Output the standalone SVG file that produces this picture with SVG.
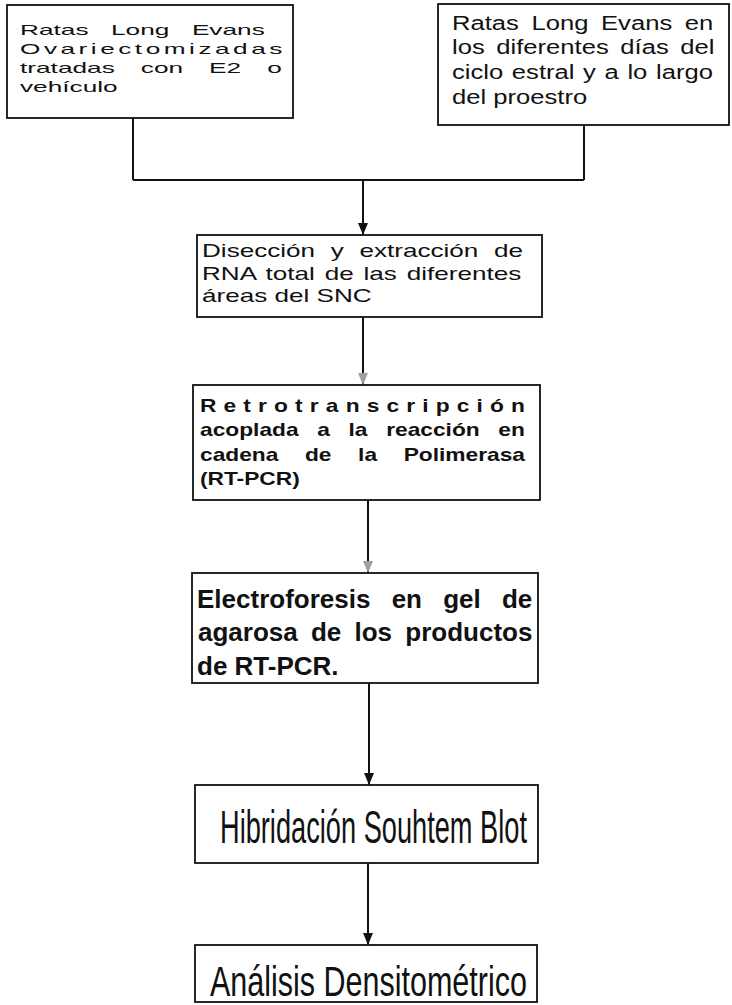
<svg xmlns="http://www.w3.org/2000/svg" width="732" height="1005" viewBox="0 0 732 1005">
<style>
.box{fill:#fff;stroke:#111;stroke-width:1.8}
.t{font-family:"Liberation Sans",Arial,sans-serif;fill:#111}
.b{font-weight:bold}
.ln{fill:none;stroke:#111;stroke-width:2}
</style>
<defs>
<marker id="ah" viewBox="0 0 12 10" refX="12" refY="5" markerWidth="12" markerHeight="10" markerUnits="userSpaceOnUse" orient="auto">
<path d="M0,0 L12,5 L0,10 Z" fill="#111"/>
</marker>
<marker id="ahf" viewBox="0 0 12 10" refX="12" refY="5" markerWidth="12" markerHeight="10" markerUnits="userSpaceOnUse" orient="auto">
<path d="M0,0 L12,5 L0,10 Z" fill="#a0a0a0"/>
</marker>
</defs>
<rect width="732" height="1005" fill="#fff"/>
<g id="connectors">
<path class="ln" d="M133,118 V180 M584,125 V180 M133,180 H584"/>
<path class="ln" d="M363,180 V235" marker-end="url(#ah)"/>
<path class="ln" d="M363,317 V385" marker-end="url(#ahf)"/>
<path class="ln" d="M368,500 V573" marker-end="url(#ahf)"/>
<path class="ln" d="M369,683 V785" marker-end="url(#ah)"/>
<path class="ln" d="M368,863 V945" marker-end="url(#ah)"/>
</g>
<g id="n1">
<rect class="box" x="7" y="5" width="286" height="113"/>
<g transform="translate(20,0) scale(1.75,1)">
<text class="t" font-size="15" x="0" y="35" word-spacing="8.7">Ratas Long Evans</text>
<text class="t" font-size="15" x="0" y="54" letter-spacing="2">Ovariectomizadas</text>
<text class="t" font-size="15" x="0" y="73" word-spacing="10.7">tratadas con E2 o</text>
<text class="t" font-size="15" x="0" y="92">vehículo</text>
</g>
</g>
<g id="n2">
<rect class="box" x="438" y="4" width="291" height="121"/>
<g transform="translate(452,0) scale(1.28,1)">
<text class="t" font-size="20" x="0" y="30" word-spacing="4.3">Ratas Long Evans en</text>
<text class="t" font-size="20" x="0" y="54" word-spacing="3.5">los diferentes días del</text>
<text class="t" font-size="20" x="0" y="79" word-spacing="1.2">ciclo estral y a lo largo</text>
<text class="t" font-size="20" x="0" y="104">del proestro</text>
</g>
</g>
<g id="n3">
<rect class="box" x="197" y="235" width="345" height="82"/>
<g transform="translate(202,0) scale(1.45,1)">
<text class="t" font-size="18" x="0" y="257" word-spacing="5.8">Disección y extracción de</text>
<text class="t" font-size="18" x="0" y="280" word-spacing="1.8">RNA total de las diferentes</text>
<text class="t" font-size="18" x="0" y="302">áreas del SNC</text>
</g>
</g>
<g id="n4">
<rect class="box" x="193" y="385" width="347" height="115"/>
<g transform="translate(200,0) scale(1.3,1)">
<text class="t b" font-size="17.5" x="0" y="412" letter-spacing="5.5">Retrotranscripción</text>
<text class="t b" font-size="17.5" x="0" y="436" word-spacing="9.5">acoplada a la reacción en</text>
<text class="t b" font-size="17.5" x="0" y="461" word-spacing="15.6">cadena de la Polimerasa</text>
<text class="t b" font-size="17.5" x="0" y="485">(RT-PCR)</text>
</g>
</g>
<g id="n5">
<rect class="box" x="192" y="573" width="346" height="110"/>
<text class="t b" font-size="26" x="197" y="608" word-spacing="14">Electroforesis en gel de</text>
<text class="t b" font-size="26" x="198" y="641" word-spacing="6">agarosa de los productos</text>
<text class="t b" font-size="26" x="197" y="675">de RT-PCR.</text>
</g>
<g id="n6">
<rect class="box" x="195" y="785" width="343" height="78"/>
<text class="t" font-size="46" transform="translate(220,843) scale(0.5915,1)">Hibridación Souhtem Blot</text>
</g>
<g id="n7">
<rect class="box" x="195" y="945" width="342" height="57"/>
<text class="t" font-size="42" transform="translate(210,995.5) scale(0.7264,1)">Análisis Densitométrico</text>
</g>
</svg>
